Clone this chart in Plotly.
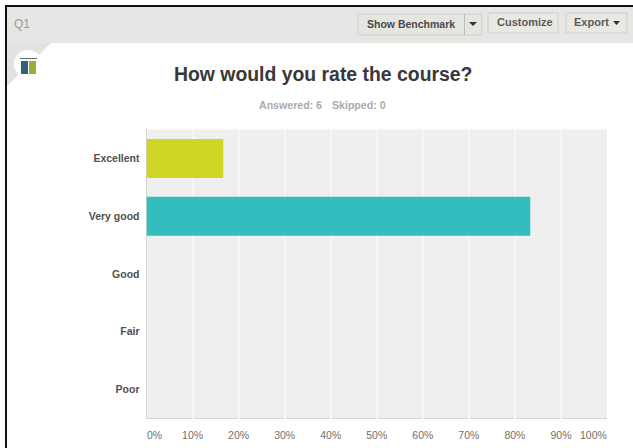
import plotly.graph_objects as go

W, H = 633, 448

categories = ["Excellent", "Very good", "Good", "Fair", "Poor"]
percent_values = [16.67, 83.33, 0, 0, 0]
bar_colors = ["#d0d626", "#32bdbf", "#32bdbf", "#32bdbf", "#32bdbf"]
tick_values = [10, 20, 30, 40, 50, 60, 70, 80, 90]
tick_labels = ["10%", "20%", "30%", "40%", "50%", "60%", "70%", "80%", "90%"]

SANS = "Liberation Sans, Arial, sans-serif"
TICK_GREY = "#6f6f6f"


def px(x):
    return x / W


def py(y):
    return 1 - y / H


def rect(x0, y0, x1, y1, fill, line=None, lw=1):
    return dict(type="rect", xref="paper", yref="paper", x0=px(x0), x1=px(x1),
                y0=py(y0), y1=py(y1), fillcolor=fill, layer="below",
                line=dict(color=line or fill, width=lw if line else 0))


def path(points, fill):
    d = "M " + " L ".join(f"{px(x):.5f},{py(y):.5f}" for x, y in points) + " Z"
    return dict(type="path", xref="paper", yref="paper", path=d, fillcolor=fill,
                layer="below", line=dict(width=0))


def label(x, y, text, size, color="#555555", bold=False):
    body = f"<b>{text}</b>" if bold else text
    return dict(xref="paper", yref="paper", x=px(x), y=py(y), text=body,
                showarrow=False, xanchor="center", yanchor="middle",
                font=dict(family=SANS, size=size, color=color))


fig = go.Figure(go.Bar(
    y=categories, x=percent_values, orientation="h", width=0.675,
    marker=dict(color=bar_colors, line=dict(width=0)), hoverinfo="skip",
))

shapes = [
    # page frame and header band
    rect(6, 5, W + 2, 7, "#111111"),
    rect(5, 5, 7, H + 2, "#111111"),
    rect(7, 7, W + 2, 43, "#e6e6e4"),
    path([(7, 43), (51, 43), (7, 86)], "#e2e2e2"),
    # question badge
    dict(type="circle", xref="paper", yref="paper", x0=px(14), x1=px(42),
         y0=py(78), y1=py(50), fillcolor="#ffffff", layer="below", line=dict(width=0)),
    rect(21, 61, 28, 74, "#2d6577"),
    rect(29, 61, 36, 74, "#9aae3a"),
    rect(20, 58, 37, 59, "#5c6b70"),
    # toolbar buttons
    rect(358, 14, 482, 35, "#e6e6e0", "#cfcfca"),
    rect(464, 14, 465, 35, "#bdbdb8"),
    rect(488, 13, 558, 33, "#e9e9e4", "#cfcfca"),
    rect(566, 13, 627, 33, "#e9e9e4", "#cfcfca"),
    path([(469, 22), (477, 22), (473, 26)], "#333333"),
    path([(613, 21), (620, 21), (616.5, 25)], "#333333"),
    # axis baseline
    rect(146, 129, 147, 418, "#d4d4d4"),
    rect(146, 418, 607, 419, "#d4d4d4"),
]

annotations = [
    label(22, 24, "Q1", 12, "#9a9a9a"),
    label(411, 24, "Show Benchmark", 10.5, "#4a4a4a", True),
    label(525, 22, "Customize", 11, "#5a5a5a", True),
    label(591, 22, "Export", 11, "#5a5a5a", True),
    label(322.5, 73.5, "How would you rate the course?", 19.4, "#383838", True),
    label(290, 104.5, "Answered: 6", 10.6, "#ababab", True),
    label(359, 104.5, "Skipped: 0", 10.6, "#ababab", True),
    # the end labels sit inside the plot edges rather than under their gridlines
    label(154.5, 435, "0%", 10.5, TICK_GREY),
    label(593.5, 435, "100%", 10.5, TICK_GREY),
]

fig.update_layout(
    width=W, height=H, margin=dict(l=0, r=0, t=0, b=0), autosize=False,
    paper_bgcolor="#ffffff", plot_bgcolor="#efefef", showlegend=False,
    bargap=0.325, shapes=shapes, annotations=annotations,
    xaxis=dict(
        domain=[px(146.5), px(607)], range=[0, 100], tickmode="array",
        tickvals=tick_values, ticktext=tick_labels, showgrid=True,
        gridcolor="#f6f6f6", gridwidth=2, zeroline=False, showline=False, ticks="",
        ticklabelstandoff=9, tickfont=dict(family=SANS, size=10.5, color=TICK_GREY),
    ),
    yaxis=dict(
        domain=[py(418.5), py(129.5)], autorange="reversed", showgrid=False,
        zeroline=False, showline=False, ticks="", ticklabelstandoff=6,
        tickfont=dict(family=SANS, size=10.5, color="#505050", weight="bold"),
    ),
)

fig.write_html("out.html", config=dict(displayModeBar=False))
